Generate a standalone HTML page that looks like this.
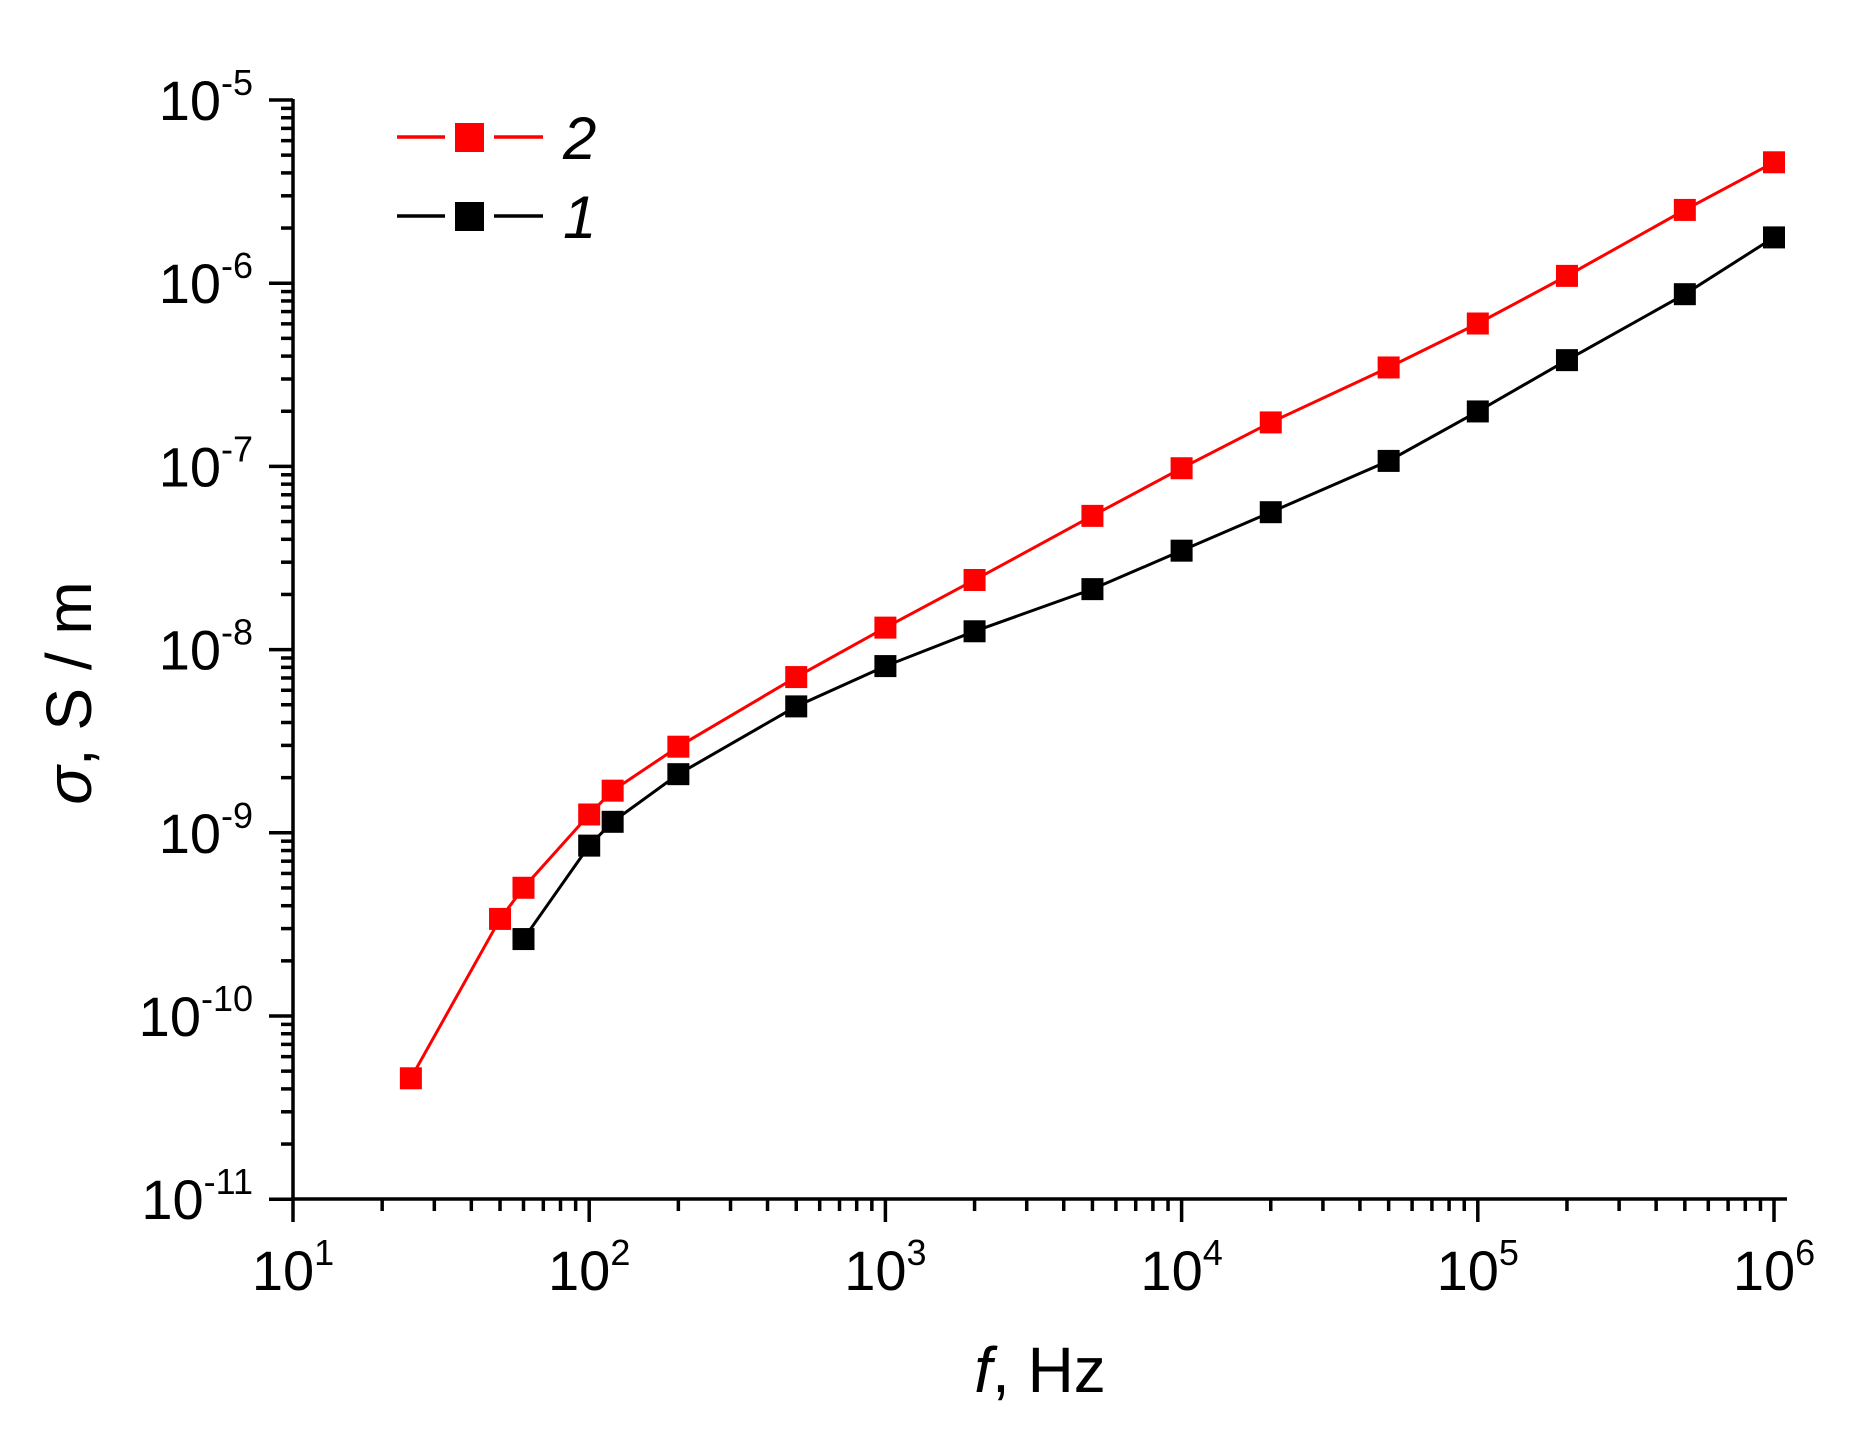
<!DOCTYPE html>
<html><head><meta charset="utf-8"><style>
html,body{margin:0;padding:0;background:#fff;}
svg{display:block;}
text{font-family:"Liberation Sans",Arial,sans-serif;fill:#000;}
</style></head><body>
<svg id="s" width="1862" height="1447" viewBox="0 0 1862 1447" xmlns="http://www.w3.org/2000/svg">
<text x="74" y="693" font-size="64" text-anchor="middle" transform="rotate(-90 74 693)" dominant-baseline="middle"><tspan font-style="italic">σ</tspan>, S / m</text>
<text x="1040" y="1392" font-size="64" text-anchor="middle"><tspan font-style="italic">f</tspan>, Hz</text>
<line x1="397" y1="137" x2="445" y2="137" stroke="#f00" stroke-width="3.5"/>
<line x1="494" y1="137" x2="543" y2="137" stroke="#f00" stroke-width="3.5"/>
<rect x="455" y="123" width="29" height="29" fill="#f00"/>
<text x="563" y="159" font-size="60" font-style="italic">2</text>
<line x1="397" y1="216" x2="445" y2="216" stroke="#000" stroke-width="3.5"/>
<line x1="494" y1="216" x2="543" y2="216" stroke="#000" stroke-width="3.5"/>
<rect x="455" y="202" width="29" height="29" fill="#000"/>
<text x="563" y="238" font-size="60" font-style="italic">1</text>
</svg>
<script>
var s=document.getElementById('s'),NS='http://www.w3.org/2000/svg';
var X0=293,DX=296.2,Y0=100,DY=183.2;
function X(f){return X0+(Math.log10(f)-1)*DX;}
function Y(l){return Y0+(-5-l)*DY;}
function el(n,a,t){var e=document.createElementNS(NS,n);for(var k in a)e.setAttribute(k,a[k]);if(t!==undefined)e.textContent=t;s.appendChild(e);return e;}
var st={stroke:'#000','stroke-width':3.5};
el('line',Object.assign({x1:X0,y1:Y0-1,x2:X0,y2:1199+2},st));
el('line',Object.assign({x1:X0-2,y1:1199,x2:1787,y2:1199},st));
for(var d=1;d<=6;d++){
  var x=X(Math.pow(10,d));
  el('line',Object.assign({x1:x,y1:1199,x2:x,y2:1222},st));
  var t=el('text',{x:x,y:1290,'font-size':56,'text-anchor':'middle'});
  t.innerHTML='10<tspan dy="-25" font-size="36">'+d+'</tspan>';
  if(d<6)for(var m=2;m<10;m++){var xm=X(m*Math.pow(10,d));el('line',Object.assign({x1:xm,y1:1199,x2:xm,y2:1211},st));}
}
for(var e=-11;e<=-5;e++){
  var y=Y(e);
  el('line',Object.assign({x1:269,y1:y,x2:X0,y2:y},st));
  var t=el('text',{x:253,y:y+20,'font-size':56,'text-anchor':'end'});
  t.innerHTML='10<tspan dy="-25" font-size="36">'+e+'</tspan>';
  if(e<-5)for(var m=2;m<10;m++){var ym=Y(e+Math.log10(m));el('line',Object.assign({x1:281,y1:ym,x2:X0,y2:ym},st));}
}
var red=[[25,-10.34],[50,-9.47],[60,-9.30],[100,-8.90],[120,-8.77],[200,-8.53],[500,-8.15],[1000,-7.88],[2000,-7.62],[5000,-7.27],[1e4,-7.01],[2e4,-6.76],[5e4,-6.46],[1e5,-6.22],[2e5,-5.96],[5e5,-5.60],[1e6,-5.34]];
var blk=[[60,-9.58],[100,-9.07],[120,-8.94],[200,-8.68],[500,-8.31],[1000,-8.09],[2000,-7.90],[5000,-7.67],[1e4,-7.46],[2e4,-7.25],[5e4,-6.97],[1e5,-6.70],[2e5,-6.42],[5e5,-6.06],[1e6,-5.75]];
function series(d,c){
  el('polyline',{points:d.map(function(p){return X(p[0])+','+Y(p[1]);}).join(' '),fill:'none',stroke:c,'stroke-width':3});
  d.forEach(function(p){el('rect',{x:X(p[0])-11,y:Y(p[1])-11,width:22,height:22,fill:c});});
}
series(blk,'#000');series(red,'#f00');
</script>
</body></html>
